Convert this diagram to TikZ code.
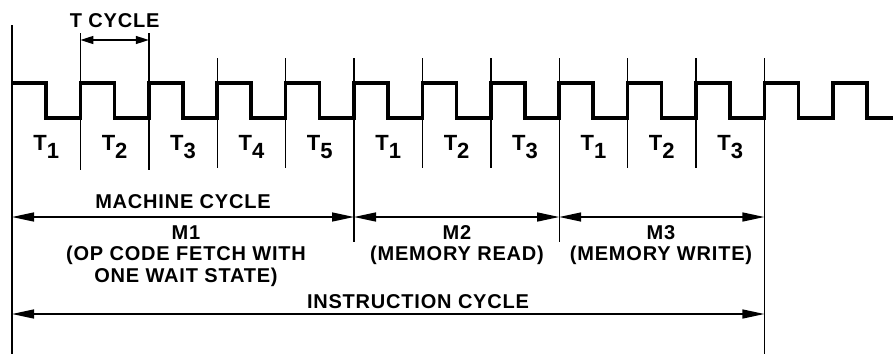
\documentclass[tikz,border=0pt]{standalone}
\usepackage{fontspec}
\setmainfont{Liberation Sans}
\newfontfamily\lblfont[LetterSpace=4]{Liberation Sans}
\usetikzlibrary{arrows.meta}

\begin{document}
\begin{tikzpicture}[x=1pt, y=-1pt,
    clk/.style={line width=3.6pt, line join=miter},
    tick/.style={line width=1.4pt},
    span/.style={line width=1.4pt, {Triangle[length=22pt,width=9pt]}-{Triangle[length=22pt,width=9pt]}},
    tspan/.style={line width=1.4pt, {Triangle[length=13pt,width=8pt]}-{Triangle[length=13pt,width=8pt]}},
    lbl/.style={font=\lblfont\bfseries\fontsize{20}{21.5}\selectfont, align=center, anchor=base, inner sep=0pt},
    tstate/.style={font=\bfseries\fontsize{22}{26}\selectfont, anchor=base, inner sep=0pt}]
    \useasboundingbox (0,0) rectangle (893,354);

    % rising edges of the clock and the rows of the spans
    \foreach \k in {0,...,11} \coordinate (e\k) at ({12+\k*68.4},0);
    \coordinate (rowT) at (0,40);
    \coordinate (rowM) at (0,217);
    \coordinate (rowI) at (0,314);

    % clock
    \draw[clk] (12,83) foreach \k in {0,...,11} {
        -- ({12+\k*68.4+34},83) -- ++(0,35) -- ({12+(\k+1)*68.4},118) -- ++(0,-35)}
        -- (866.8,83) -- (866.8,118) -- (893,118);

    % boundaries of the T states
    \draw[tick] (e0 |- 0,25) -- (e0 |- 0,354);
    \foreach \k in {1,2} \draw[tick] (e\k |- 0,33) -- (e\k |- 0,170);
    \foreach \k in {3,4,6,7,9,10} \draw[tick] (e\k |- 0,58) -- (e\k |- 0,168);
    \foreach \k in {5,8} \draw[tick] (e\k |- 0,58) -- (e\k |- 0,242);
    \draw[tick] (e11 |- 0,58) -- (e11 |- 0,354);

    \foreach \k/\n in {0/1,1/2,2/3,3/4,4/5,5/1,6/2,7/3,8/1,9/2,10/3}
        \node[tstate] (t\k) at ({12+\k*68.4+34.2},150) {T\raisebox{-8pt}{\n}};

    % T cycle
    \node[lbl] (tcyc) at (114.6,27) {T CYCLE};
    \draw[tspan] (e1 |- rowT) -- (e2 |- rowT);

    % machine cycles (base = last line)
    \node[lbl] (mach) at (183,208) {MACHINE CYCLE};
    \draw[span] (e0 |- rowM) -- (e5 |- rowM);
    \draw[span] (e5 |- rowM) -- (e8 |- rowM);
    \draw[span] (e8 |- rowM) -- (e11 |- rowM);
    \node[lbl] (m1) at (186,282) {M1\\(OP CODE FETCH WITH\\ONE WAIT STATE)};
    \node[lbl] (m2) at (457,260.5) {M2\\(MEMORY READ)};
    \node[lbl] (m3) at (661,260.5) {M3\\(MEMORY WRITE)};

    % instruction cycle
    \node[lbl] (instr) at (418,308) {INSTRUCTION CYCLE};
    \draw[span] (e0 |- rowI) -- (e11 |- rowI);
\end{tikzpicture}
\end{document}
